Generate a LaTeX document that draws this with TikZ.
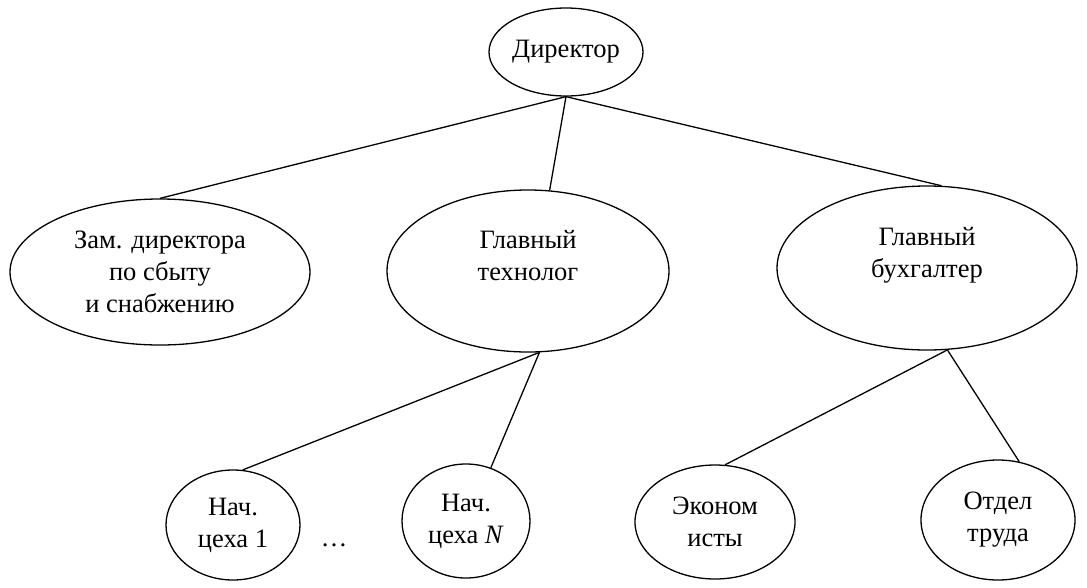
\documentclass[tikz,border=0pt]{standalone}
\usepackage{fontspec}
\setmainfont{Liberation Serif}
\usetikzlibrary{shapes.geometric}
\begin{document}
\begin{tikzpicture}[x=1pt,y=-1pt,
  every node/.style={font=\fontsize{26.5}{32}\selectfont},
  unit/.style={draw, ellipse, line width=1.3pt, inner sep=0pt, align=center},
  link/.style={line width=1.3pt}]
\useasboundingbox (0,0) rectangle (1087,587);

% top level
\node[unit, minimum width=154pt, minimum height=88pt] (dir) at (566,52) {Директор};

% second level
\node[unit, minimum width=300pt, minimum height=146pt] (zam) at (160,272)
  {Зам. директора\\по сбыту\\и снабжению};
\node[unit, minimum width=282pt, minimum height=162pt] (tech) at (528,271)
  {Главный\\технолог\\\mbox{}};
\node[unit, minimum width=300pt, minimum height=164pt] (buh) at (927,268)
  {Главный\\бухгалтер\\\mbox{}};

% third level
\node[unit, minimum width=134pt, minimum height=110pt] (n1) at (233,525) {Нач.\\цеха 1};
\node[unit, minimum width=128pt, minimum height=114pt] (nN) at (466,521) {Нач.\\цеха \textit{N}};
\node[unit, minimum width=160pt, minimum height=114pt] (eco) at (715,522) {Эконом\\исты};
\node[unit, minimum width=154pt, minimum height=120pt] (otd) at (998,520) {Отдел\\труда};

\node (dots) at (334,545) {\dots};

% connectors
\draw[link] (dir.south) -- (zam.north);
\draw[link] (dir.south) -- (tech.75);
\draw[link] (dir.south) -- (buh.80);
\draw[link] (tech.-82) -- (n1.80);
\draw[link] (tech.-82) -- (nN.65);
\draw[link] (buh.-76) -- (eco.80);
\draw[link] (buh.-76) -- (otd.70);
\end{tikzpicture}
\end{document}
